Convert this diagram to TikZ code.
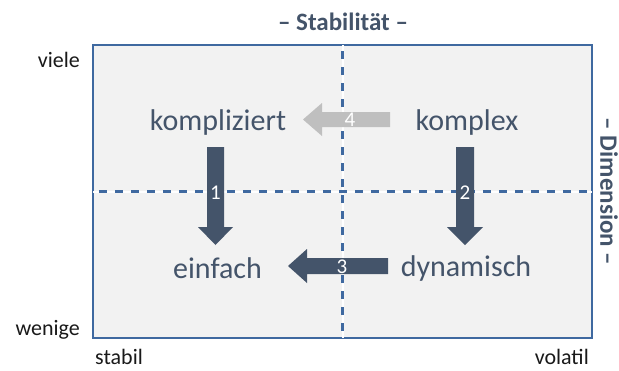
\documentclass[tikz,border=0pt]{standalone}
\usepackage{fontspec}
\setmainfont{Carlito}
\definecolor{slate}{HTML}{44546A}
\definecolor{frameblue}{HTML}{3F69A0}
\definecolor{panel}{HTML}{F2F2F2}
\definecolor{paleArrow}{HTML}{BFBFBF}
\begin{document}
\begin{tikzpicture}[x=1pt,y=-1pt,
  term/.style={text=slate,font=\fontsize{30}{34}\selectfont,inner sep=0pt},
  axislabel/.style={text=black!90,font=\fontsize{22}{26}\selectfont,inner sep=0pt},
  dimtitle/.style={text=slate,font=\bfseries\fontsize{25}{29}\selectfont,inner sep=0pt},
  stepno/.style={text=white,font=\fontsize{21}{24}\selectfont,inner sep=0pt},
  gridline/.style={frameblue,line width=2.4pt,dash pattern=on 8pt off 8pt},
  gridback/.style={white,line width=2pt}]
\useasboundingbox (0,0) rectangle (619,370);

% quadrant frame
\coordinate (tl) at (93,45);
\coordinate (br) at (592,338);
\fill[panel] (tl) rectangle (br);
\draw[frameblue,line width=2pt] (tl) rectangle (br);

% dividing lines
\coordinate (vt) at (342.5,45);
\coordinate (vb) at (342.5,338);
\coordinate (hl) at (93,191.5);
\coordinate (hr) at (592,191.5);
\draw[gridback] (vt) -- (vb);
\draw[gridback] (hl) -- (hr);
\draw[gridline] ([yshift=-6pt]vt) -- (vb);
\draw[gridline] ([xshift=6pt]hl) -- (hr);

% block arrows
\fill[paleArrow] (390,112) -- (322,112) -- (322,103) -- (303,119.5) -- (322,136) -- (322,127) -- (390,127) -- cycle;
\fill[slate] (388,258) -- (307,258) -- (307,249) -- (288,266) -- (307,283) -- (307,274) -- (388,274) -- cycle;
\fill[slate] (207,147) -- (207,227) -- (198,227) -- (215.5,245) -- (233,227) -- (224,227) -- (224,147) -- cycle;
\fill[slate] (456,147) -- (456,227) -- (447,227) -- (465,245) -- (483,227) -- (474,227) -- (474,147) -- cycle;

\node[stepno] (n1) at (215.5,193) {1};
\node[stepno] (n2) at (465,193) {2};
\node[stepno] (n3) at (342,267) {3};
\node[stepno] (n4) at (350,120) {4};

% quadrant terms
\node[term] (kompliziert) at (218,122) {kompliziert};
\node[term] (komplex) at (467,122) {komplex};
\node[term] (einfach) at (217.5,268) {einfach};
\node[term] (dynamisch) at (466,268) {dynamisch};

% axis titles and ends
\node[dimtitle] (stab) at (343,22) {– Stabilität –};
\node[dimtitle,rotate=-90] (dim) at (609,191.5) {– Dimension –};
\node[axislabel,anchor=east] (viele) at (80,60) {viele};
\node[axislabel,anchor=east] (wenige) at (80,330) {wenige};
\node[axislabel,anchor=west] (stabil) at (95,357) {stabil};
\node[axislabel,anchor=east] (volatil) at (589,357) {volatil};
\end{tikzpicture}
\end{document}
